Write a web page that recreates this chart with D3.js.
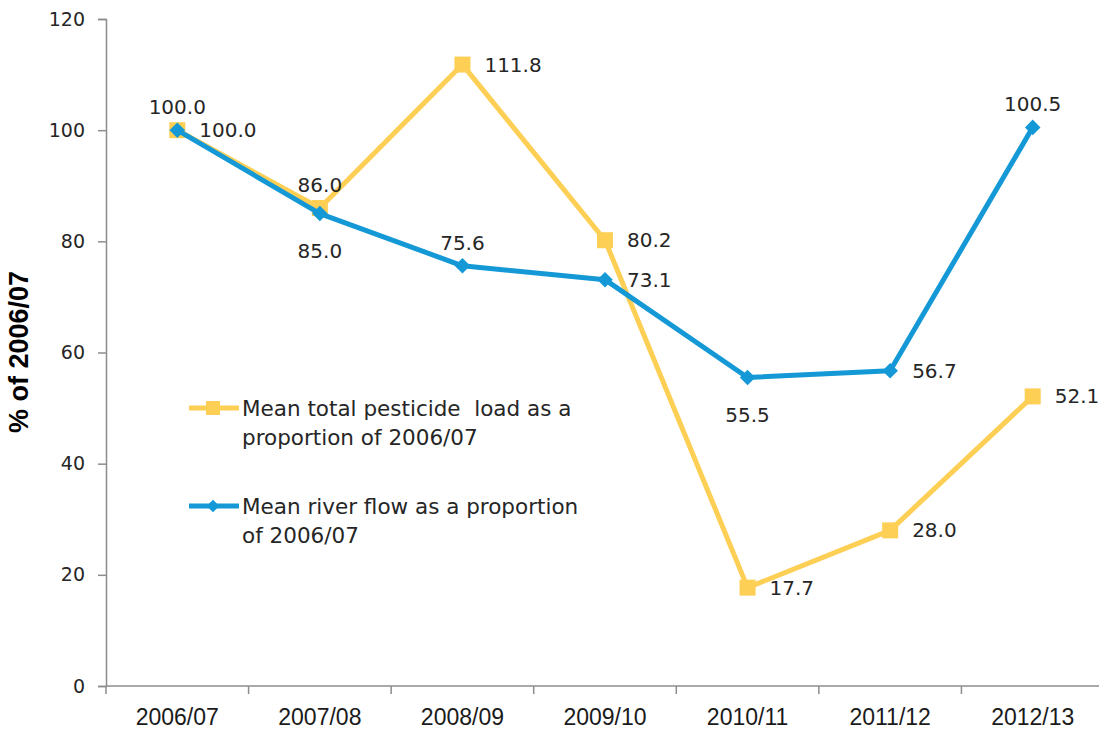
<!DOCTYPE html>
<html>
<head>
<meta charset="utf-8">
<script src="https://cdn.jsdelivr.net/npm/d3@7"></script>
<style>
  body { margin: 0; background: #fff; }
  svg { display: block; }
</style>
</head>
<body>
<div id="chart"></div>
<script>
// data
const years = ["2006/07", "2007/08", "2008/09", "2009/10", "2010/11", "2011/12", "2012/13"];
const pesticide = [100.0, 86.0, 111.8, 80.2, 17.7, 28.0, 52.1];
const riverFlow = [100.0, 85.0, 75.6, 73.1, 55.5, 56.7, 100.5];
const yTicks = [0, 20, 40, 60, 80, 100, 120];
// where each data label sits relative to its point
const pesticideLabelSide = ["above", "above", "right", "right", "right", "right", "right"];
const riverLabelSide = ["right", "below", "above", "right", "below", "right", "above"];

const width = 1099, height = 729;
const yellow = "#fdcf55", blue = "#1599d6";
const labelFont = "'DejaVu Sans', sans-serif";

let svg = d3.select("#chart")
    .append("svg")
    .attr("width", width)
    .attr("height", height);

let x = d3.scaleBand()
    .domain(years)
    .range([106, 1104]);

let y = d3.scaleLinear()
    .domain([0, 120])
    .range([686, 19]);

let cx = function(d, i) { return x(years[i]) + x.bandwidth() / 2; };

// y axis
let yAxis = svg.append("g")
    .attr("transform", "translate(106,0)")
    .call(d3.axisLeft(y).tickValues(yTicks).tickSize(8).tickPadding(13));
yAxis.select(".domain").attr("stroke", "#8c8c8c").attr("stroke-width", 1.5);
yAxis.selectAll(".tick line").attr("stroke", "#8c8c8c").attr("stroke-width", 1.5);
yAxis.selectAll(".tick text")
    .attr("fill", "#262626")
    .style("font-family", labelFont)
    .style("font-size", "19px");

// x axis: ticks between categories
let xAxisG = svg.append("g").attr("transform", "translate(0,686)");
xAxisG.append("line")
    .attr("x1", 106).attr("x2", 1104)
    .attr("stroke", "#8c8c8c").attr("stroke-width", 1.5);
xAxisG.selectAll(".xtick")
    .data(years.concat(["end"]))
    .enter()
    .append("line")
    .attr("x1", function(d, i) { return 106 + i * x.bandwidth(); })
    .attr("x2", function(d, i) { return 106 + i * x.bandwidth(); })
    .attr("y1", 0).attr("y2", 8)
    .attr("stroke", "#8c8c8c").attr("stroke-width", 1.5);
xAxisG.selectAll(".xlabel")
    .data(years)
    .enter()
    .append("text")
    .attr("x", function(d) { return x(d) + x.bandwidth() / 2; })
    .attr("y", 39)
    .attr("text-anchor", "middle")
    .attr("fill", "#1a1a1a")
    .style("font-family", "'Liberation Sans', Arial, sans-serif")
    .style("font-size", "23px")
    .text(function(d) { return d; });

// y axis title
svg.append("text")
    .attr("transform", "translate(28,352)rotate(-90)")
    .attr("text-anchor", "middle")
    .attr("fill", "#000")
    .style("font-family", "'Liberation Sans', Arial, sans-serif")
    .style("font-weight", "bold")
    .style("font-size", "27px")
    .text("% of 2006/07");

let line = d3.line()
    .x(cx)
    .y(function(d) { return y(d); });

// pesticide series
svg.append("path")
    .datum(pesticide)
    .attr("fill", "none")
    .attr("stroke", yellow)
    .attr("stroke-width", 5)
    .attr("stroke-linejoin", "round")
    .attr("d", line);

svg.selectAll(".sq")
    .data(pesticide)
    .enter()
    .append("rect")
    .attr("x", function(d, i) { return cx(d, i) - 8; })
    .attr("y", function(d) { return y(d) - 8; })
    .attr("width", 16)
    .attr("height", 16)
    .attr("fill", yellow);

// river flow series
svg.append("path")
    .datum(riverFlow)
    .attr("fill", "none")
    .attr("stroke", blue)
    .attr("stroke-width", 5)
    .attr("stroke-linejoin", "round")
    .attr("d", line);

svg.selectAll(".dm")
    .data(riverFlow)
    .enter()
    .append("path")
    .attr("transform", function(d, i) { return `translate(${cx(d, i)},${y(d)})rotate(45)`; })
    .attr("d", "M-5.5,-5.5H5.5V5.5H-5.5Z")
    .attr("fill", blue);

// data labels
function addLabels(values, sides) {
    svg.selectAll(null)
        .data(values)
        .enter()
        .append("text")
        .attr("x", function(d, i) { return sides[i] === "right" ? cx(d, i) + 22 : cx(d, i); })
        .attr("y", function(d, i) {
            if (sides[i] === "above") return y(d) - 16;
            if (sides[i] === "below") return y(d) + 44;
            return y(d) + 7;
        })
        .attr("text-anchor", function(d, i) { return sides[i] === "right" ? "start" : "middle"; })
        .attr("fill", "#262626")
        .style("font-family", labelFont)
        .style("font-size", "20px")
        .text(function(d) { return d.toFixed(1); });
}
addLabels(pesticide, pesticideLabelSide);
addLabels(riverFlow, riverLabelSide);

// legend
let legend = [
    { color: yellow, marker: "square", lines: ["Mean total pesticide  load as a", "proportion of 2006/07"], y: 408 },
    { color: blue, marker: "diamond", lines: ["Mean river flow as a proportion", "of 2006/07"], y: 506 }
];
legend.forEach(function(item) {
    svg.append("line")
        .attr("x1", 189).attr("x2", 239)
        .attr("y1", item.y).attr("y2", item.y)
        .attr("stroke", item.color)
        .attr("stroke-width", 5);
    if (item.marker === "square") {
        svg.append("rect")
            .attr("x", 206).attr("y", item.y - 7)
            .attr("width", 14).attr("height", 14)
            .attr("fill", item.color);
    } else {
        svg.append("path")
            .attr("transform", `translate(213,${item.y})rotate(45)`)
            .attr("d", "M-4.5,-4.5H4.5V4.5H-4.5Z")
            .attr("fill", item.color);
    }
    item.lines.forEach(function(t, k) {
        svg.append("text")
            .attr("x", 242)
            .attr("y", item.y + 8 + k * 29)
            .attr("fill", "#262626")
            .style("font-family", labelFont)
            .style("font-size", "21.5px")
            .style("white-space", "pre")
            .text(t);
    });
});
</script>
</body>
</html>
